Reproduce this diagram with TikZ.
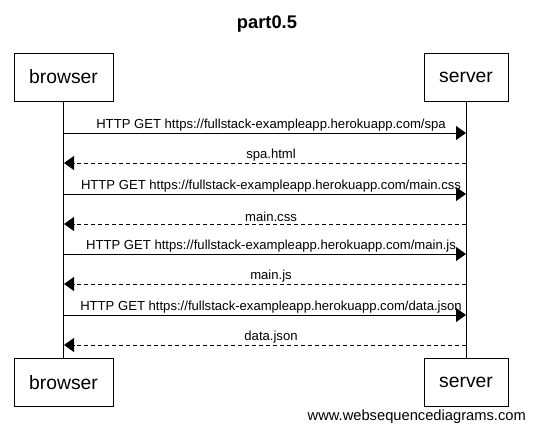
\documentclass[tikz,border=0pt]{standalone}
\usepackage{fontspec}
\setmainfont{Liberation Sans}
\usetikzlibrary{arrows.meta}
\begin{document}
\begin{tikzpicture}[x=1pt,y=-1pt,
  actor/.style={draw,line width=0.9pt,minimum height=48pt,inner sep=0pt,font=\fontsize{19.3}{22}\selectfont},
  msg/.style={line width=0.9pt,-{Triangle[length=10pt,width=14pt]}},
  reply/.style={msg,dash pattern=on 4pt off 3pt},
  lbl/.style={font=\fontsize{13.1}{15}\selectfont,inner sep=1.5pt,anchor=south},
  life/.style={line width=0.9pt}]
\useasboundingbox (0,0) rectangle (534,432);
\node[font=\bfseries\fontsize{18.3}{21}\selectfont] (title) at (267,24) {part0.5};
\node[actor,minimum width=99pt] (bt) at (63.5,77) {browser};
\node[actor,minimum width=84pt] (st) at (466,77) {server};
\node[actor,minimum width=99pt] (bb) at (63.5,382.5) {browser};
\node[actor,minimum width=84pt] (sb) at (466,382.5) {server};
\node[font=\fontsize{14.7}{17}\selectfont,anchor=east,inner sep=0pt] (wm) at (526,417) {www.websequencediagrams.com};
\draw[life] (bt.south) -- (bb.north);
\draw[life] (st.south) -- (sb.north);
\foreach \i/\y in {1/133,2/163,3/194,4/224,5/254,6/284,7/315,8/345}{
  \coordinate (b\i) at (64,\y);
  \coordinate (s\i) at (466,\y);
}
\draw[msg] (b1) -- node[lbl,pos=0.515] {HTTP GET https://fullstack-exampleapp.herokuapp.com/spa} (s1);
\draw[reply] (s2) -- node[lbl,pos=0.485] {spa.html} (b2);
\draw[msg] (b3) -- node[lbl,pos=0.515] {HTTP GET https://fullstack-exampleapp.herokuapp.com/main.css} (s3);
\draw[reply] (s4) -- node[lbl,pos=0.485] {main.css} (b4);
\draw[msg] (b5) -- node[lbl,pos=0.515] {HTTP GET https://fullstack-exampleapp.herokuapp.com/main.js} (s5);
\draw[reply] (s6) -- node[lbl,pos=0.485] {main.js} (b6);
\draw[msg] (b7) -- node[lbl,pos=0.515] {HTTP GET https://fullstack-exampleapp.herokuapp.com/data.json} (s7);
\draw[reply] (s8) -- node[lbl,pos=0.485] {data.json} (b8);
\end{tikzpicture}
\end{document}
